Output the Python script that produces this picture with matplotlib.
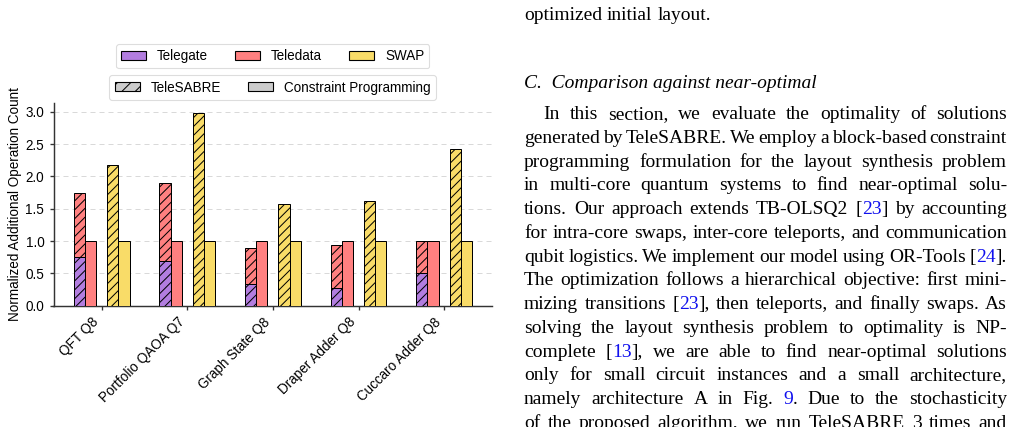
import re
import matplotlib
matplotlib.use('Agg')
import matplotlib.pyplot as plt
import numpy as np
from matplotlib.patches import Patch

# data
circuits = ['QFT Q8', 'Portfolio QAOA Q7', 'Graph State Q8', 'Draper Adder Q8', 'Cuccaro Adder Q8']
ts_telegate = [0.75, 0.69, 0.34, 0.27, 0.50]
ts_teledata = [1.00, 1.21, 0.56, 0.67, 0.50]
ts_swap = [2.18, 2.98, 1.58, 1.62, 2.43]
cp_telegate = [0.0, 0.0, 0.0, 0.0, 0.0]
cp_teledata = [1.0, 1.0, 1.0, 1.0, 1.0]
cp_swap = [1.0, 1.0, 1.0, 1.0, 1.0]

heading = 'C. Comparison against near-optimal'
prev_line = 'optimized initial layout.'
para = [
    'In this section, we evaluate the optimality of solutions',
    'generated by TeleSABRE. We employ a block-based constraint',
    'programming formulation for the layout synthesis problem',
    'in multi-core quantum systems to find near-optimal solu-',
    'tions. Our approach extends TB-OLSQ2 [{23}] by accounting',
    'for intra-core swaps, inter-core teleports, and communication',
    'qubit logistics. We implement our model using OR-Tools [{24}].',
    'The optimization follows a hierarchical objective: first mini-',
    'mizing transitions [{23}], then teleports, and finally swaps. As',
    'solving the layout synthesis problem to optimality is NP-',
    'complete [{13}], we are able to find near-optimal solutions',
    'only for small circuit instances and a small architecture,',
    'namely architecture A in Fig. {9}. Due to the stochasticity',
    'of the proposed algorithm, we run TeleSABRE 3 times and',
]

c_gate = '#b27ddf'
c_data = '#ff8080'
c_swap = '#f9dc68'
cite_color = '#1010ee'

W, H, DPI = 1032, 427, 80
fs = 12.2
plt.rcParams['font.family'] = ['Liberation Sans', 'DejaVu Sans']
plt.rcParams['hatch.linewidth'] = 0.9
fig = plt.figure(figsize=(W / DPI, H / DPI), dpi=DPI)
ax = fig.add_axes([53.5 / W, 1 - 305.7 / H, (491.7 - 53.5) / W, (305.7 - 103.3) / H])

x = np.arange(len(circuits))
bw = 0.13
hatch = '///'
kw = dict(width=bw, edgecolor='black', linewidth=0.9, zorder=3)
ax.bar(x - 0.26, ts_telegate, color=c_gate, hatch=hatch, **kw)
ax.bar(x - 0.26, ts_teledata, bottom=ts_telegate, color=c_data, hatch=hatch, **kw)
ax.bar(x - 0.13, cp_telegate, color=c_gate, **kw)
ax.bar(x - 0.13, cp_teledata, bottom=cp_telegate, color=c_data, **kw)
ax.bar(x + 0.13, ts_swap, color=c_swap, hatch=hatch, **kw)
ax.bar(x + 0.26, cp_swap, color=c_swap, **kw)

ax.set_xlim(-0.563, 4.556)
ax.set_ylim(0, 3.13)
ax.set_yticks([0, 0.5, 1.0, 1.5, 2.0, 2.5, 3.0])
ax.set_xticks(x)
ax.set_xticklabels(circuits, rotation=45, ha='right')
ax.tick_params(labelsize=fs, length=3.8, width=1.2, color='#333333', pad=4.5)
ax.set_ylabel('Normalized Additional Operation Count', fontsize=fs, labelpad=3)
ax.yaxis.grid(True, linestyle=(0, (5, 4)), color='#d9d9d9', linewidth=0.9)
ax.set_axisbelow(True)
for s in ['top', 'right']:
    ax.spines[s].set_visible(False)
for s in ['left', 'bottom']:
    ax.spines[s].set_linewidth(1.3)
    ax.spines[s].set_color('#333333')

leg_kw = dict(loc='lower center', borderaxespad=0, fontsize=fs, frameon=True,
              edgecolor='#dddddd', fancybox=True, handlelength=1.85,
              handleheight=0.6, handletextpad=0.8, columnspacing=2.0,
              framealpha=1, borderpad=0.38)
h1 = [Patch(facecolor=c_gate, edgecolor='black', label='Telegate'),
      Patch(facecolor=c_data, edgecolor='black', label='Teledata'),
      Patch(facecolor=c_swap, edgecolor='black', label='SWAP')]
leg1 = ax.legend(handles=h1, ncol=3, bbox_to_anchor=(0.5, 1.172), **leg_kw)
ax.add_artist(leg1)
h2 = [Patch(facecolor='#cccccc', edgecolor='black', hatch='//', label='TeleSABRE'),
      Patch(facecolor='#cccccc', edgecolor='black', label='Constraint Programming')]
ax.legend(handles=h2, ncol=2, bbox_to_anchor=(0.5, 1.018), **leg_kw)

# page text on the right
body_size = 17.5
serif = ['Liberation Serif', 'DejaVu Serif']
fig.canvas.draw()
r = fig.canvas.get_renderer()


def fpos(px, py):
    return px / W, 1 - py / H


def put_line(line, x0, x1, yb, justify=True):
    words = []
    for w in line.split(' '):
        segs = []
        for s in re.split(r'(\{[^}]*\})', w):
            if not s:
                continue
            if s.startswith('{'):
                segs.append((s[1:-1], cite_color))
            else:
                segs.append((s, 'black'))
        arts = [fig.text(0, 0, s, color=c, fontsize=body_size, family=serif, va='baseline')
                for s, c in segs]
        ws = [a.get_window_extent(r).width for a in arts]
        words.append((arts, ws))
    total = sum(sum(ws) for _, ws in words)
    if justify and len(words) > 1:
        gap = (x1 - x0 - total) / (len(words) - 1)
    else:
        gap = body_size * DPI / 72 * 0.25
    xx = x0
    for arts, ws in words:
        for a, w in zip(arts, ws):
            a.set_position(fpos(xx, yb))
            xx += w
        xx += gap


put_line(prev_line, 524, 1007, 20, justify=False)
fig.text(*fpos(524, 88), 'C.  ' + heading[3:], fontsize=body_size, family=serif,
         style='italic', va='baseline')
for i, line in enumerate(para):
    put_line(line, 543.3 if i == 0 else 524, 1007, 119 + 23.77 * i)

fig.savefig('out.png', dpi=DPI)
